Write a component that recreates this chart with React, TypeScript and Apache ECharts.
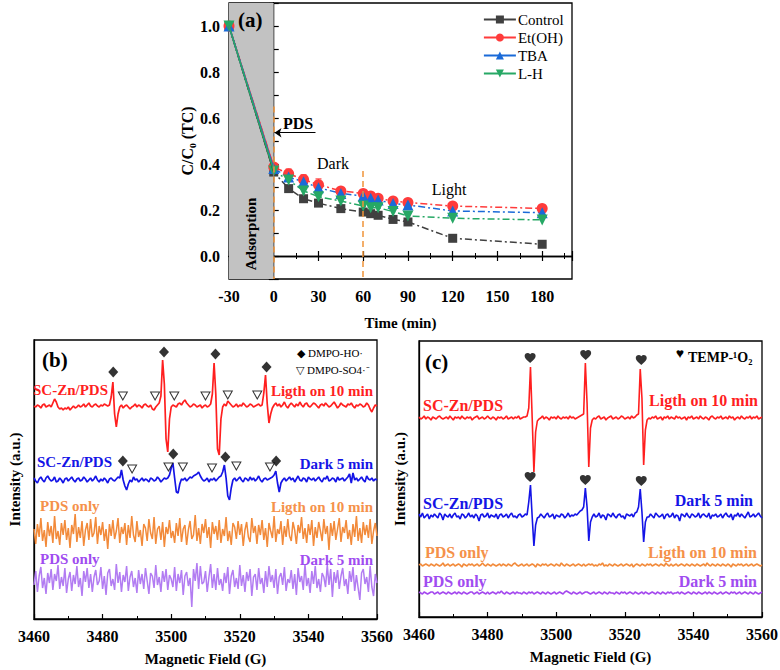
import React, { useEffect, useRef } from "react";
import * as echarts from "echarts";

// ---------------- Panel (a) data ----------------
const A_TIME = [-30, 0, 10, 20, 30, 45, 60, 65, 70, 80, 90, 120, 180];
const A_CONTROL = [1.0, 0.365, 0.293, 0.249, 0.23, 0.206, 0.191, 0.184, 0.177, 0.159, 0.148, 0.077, 0.051];
const A_ETOH = [1.0, 0.387, 0.358, 0.333, 0.31, 0.283, 0.272, 0.261, 0.251, 0.239, 0.233, 0.217, 0.207];
const A_TBA = [1.0, 0.38, 0.343, 0.323, 0.297, 0.272, 0.261, 0.251, 0.243, 0.228, 0.222, 0.196, 0.188];
const A_LH = [1.0, 0.37, 0.33, 0.283, 0.258, 0.239, 0.217, 0.21, 0.21, 0.193, 0.174, 0.164, 0.157];
const A_ETOH_ERR = [0, 0.012, 0.02, 0.02, 0.025, 0.012, 0.01, 0.01, 0.008, 0.006, 0.006, 0.005, 0.005];
const A_TBA_ERR = [0, 0.01, 0.012, 0.012, 0.015, 0.01, 0.01, 0.008, 0.008, 0.006, 0.006, 0.005, 0.005];
const A_NAMES = ["Control", "Et(OH)", "TBA", "L-H"];

// ---------------- EPR spectra (field 3460..3560 G, 0.5 G step), intensity relative to each baseline ----------------
const FIELD_START = 3460;
const FIELD_STEP = 0.5;

const B_RED = [
  0, -1, 1, 0, -2, 1, 2, -1, 0, 1, -1,
  3, 7, 4,
  -1, -3, -2, -4, -2, -3, -1, -4, -2, 0, -2, -1, 1, -1, 0, 2, -1, 1, 3, 0, -1, 1, 2, 0, -1, 1, 0, 2, 1, 0, 1,
  9, 24, -8, -21, -8, -1,
  1, -2, 0, 1, -1, -3, -1, 0, 2, -1, 1, 0, -2, 1, 2, 0, -1, 1,
  -3, -4,
  -1, 1, 3,
  10, 46, 22, -33, -46, -13, -1,
  1, 0, -1, 2, 3, 1, 4, 6, 3, 1, -1, 0, 2, 1, -1, 0, 1, -2, 0, 1, -1, 0, 2,
  12, 43, 12, -43, -49, -13, -1,
  2, 0, 5, 3, 1, -1, 0, 2, -1, 1, 0, 3, 1, -1, 0, 2, 1, -1, 0, 1, 2, 0, 1,
  13, 31, 2, -17, -8, -2,
  1, 3, 0, 2, -1, 1, 4, 0, -2, 1, 3, 1, -1, 2, 0, 4, 1, -1, 2, 3, 0, -1, 1, 3, 2, 0, -2, 1, 2, 0,
  3, 1, -1, 0, 2, 4, 1, -2, 0, 3, 1, 0, -1, 2, 1, 3, 0, -2, 1, 0, 2, 1, -1, 0, 3, 1, -3, -6, -2, 1, 0,
];

const B_BLUE = [
  2, -1, -3, 1, 3, 0, -2, 2, 4, 1, -1, 0, 3, -2, -1, 2, 0, -3, 1, 2, -1, 1, 3, 0, -2, 1, 2, -1, 0, 3,
  1, -2, 0, 2, -1, 1, 4, 0, -2, 1, -1, 2, 0, -3, 1, 2, 0, -1, 1, 3, 2,
  10, 0, -6, -10, -4, 0, -2, 3,
  0, 1, -2, 0, 2, -1, 1, 0, -2, 2, 1, -1, 0, 3, 1, -2, 0, 2, 1, 2,
  5, 12, 17, 2, -12, -13, -4, 1,
  0, 2, -1, 1, 3, 2, 4, 5,
  6, 8,
  4, 1, -1, 0, 2, -2, 1, 0, 2, -1, 1, 3, 4,
  8, 15, 2, -16, -20, -8, 0,
  2, -1, 1, 3, 0, -2, 2, 1, -1, 3, 0, 2, -1, 1, 4, 0, -2, 1, 2, 0, 1, 2, 3,
  5, 9, -3, -12, -3, 0,
  2, -1, 1, 3, 0, 2, -2, 1, 4, 0, -1, 2, 1, -2, 3, 1, 0, 2, -1, 1, 3, 0, -2, 2, 1, 4, -1, 0, 2, 1,
  -2, 3, 0, 1, 2, -1, 1, 3,
  6, -3, 7,
  0, 2, -1, 1, 3, 0, -2, 4, 1, 0, 2, -1, 1, 0,
];

const B_ORANGE = [
  3, -12, 8, -5, 14, -9, 2, -15, 10, -4, 6, -11, 16, -7, 1, -13, 9, -3, 12, -8,
  4, -16, 7, -2, 18, -10, 5, -6, 11, -14, 2, 9, -8, 13, -5, -1, 15, -12, 6, -3,
  10, -9, 3, -17, 8, -4, 12, -7, 1, 14, -11, 5, -2, 9, -13, 7, -6, 16, -3, -10,
  11, -5, 2, -14, 8, 4, -9, 13, -1, -7, 15, -12, 3, 6, -8, 10, -15, 5, -2, 12,
  -6, 1, -11, 9, -4, 14, -10, 3, 7, -13, 2, 11, -7, -3, 17, -9, 4, -12, 8, -1,
  13, -6, 5, -16, 10, -2, 6, -8, 12, -11, 3, -4, 15, -9, 1, -13, 9, 5, -7, 11,
  -3, 8, -14, 2, 10, -5, -10, 14, -1, 6, -12, 7, -3, 12, -8, 4, -15, 9, 1, -6,
  16, -10, 3, -2, 11, -13, 6, -5, 13, -4, -9, 10, 2, -12, 7, -1, 15, -7, 4, -11,
  8, -3, 12, -14, 5, -6, 10, 1, -9, 13, -2, 6, -18, 9, -4, 11, -8, 3, 14, -10,
  5, -1, 12, -7, 2, -13, 8, -5, 16, -9, 4, -11, 10, -3, 7, -6, 13, -12, 1, 9,
  -4,
];

const B_PURPLE = [
  -5, 9, -12, 4, 13, -8, 2, -14, 7, -3, 11, -10, 6, -1, 15, -9, 3, -6, 12, -13,
  1, 8, -11, 5, -4, 14, -7, 2, -16, 9, -2, 12, -8, 6, -12, 3, 10, -5, -1, 13,
  -9, 4, -15, 7, 11, -6, 1, -10, 16, -3, 8, -12, 5, -2, 14, -11, 3, 9, -7, 2,
  -13, 10, -4, 6, -9, 12, -1, -14, 7, 4, -8, 15, -5, 3, -12, 9, -2, 11, -10, 5,
  1, -7, 13, -11, 6, -3, 10, -15, 4, 8, -6, 2, -27, 11, -1, 17, -9, 14, -4, -2,
  9, -12, 3, 16, -8, 6, -10, 12, -5, 1, -11, 7, -3, 13, -14, 4, 10, -7, 2, -9,
  15, -6, 5, -12, 8, -1, 11, -16, 3, 6, -10, 12, -4, 2, -13, 9, -7, 14, -2, 5,
  -8, 11, -14, 3, 7, -5, 13, -11, 1, -3, 10, -9, 6, -15, 12, -2, 4, -10, 16, -6,
  2, -13, 9, -4, 14, -8, 1, -12, 7, 3, -7, 15, -5, 11, -17, 8, -3, 10, -9, 4,
  12, -6, 1, -14, 9, -2, 13, -11, 5, -8, -20, 7, 11, -4, 3, -12, 14, -7, -16, 6,
  -3,
];

const C_RED = [
  1, -1, 0, 2, -1, 1, 0, -2, 1, 0, -1, 1, 2, 0, -1, 0, 1, -1, 2, 0,
  -2, 1, 0, 1, -1, 2, 0, -1, 1, 0, 1, -2, 0, 1, 2, -1, 0, 1, -1, 0,
  2, 0, -1, 1, 0, -2, 1, 0, 1, -1, 0, 2, -1, 0, 1, -1, 1, 0, 2, -1, 0, 1, 1,
  2, 10, 51, 0, -54, -14, -3,
  -1, 0, 2, -1, 1, 0, -2, 1, 0, 1, -1, 2, 0, -1, 1, 0, 1, -1, 2, 0, 1, -1, 0, 1, 2, 3,
  4, 55, 15, -49, -10, -2,
  0, -1, 1, 2, -1, 0, 1, -2, 0, 1, 2, -1, 0, 1, -1, 0, 2, 1, -1, 0, 1, -1, 2, 0, 1, 3,
  4, 49, 20, -47, -12, -2,
  0, -1, 1, 0, 2, -1, 0, 1, -2, 1, 0, 2, -1, 1, 0, -1, 2, 0, 1, -1,
  0, 1, -2, 1, 0, 2, -1, 0, 1, -1, 2, 0, -1, 1, 0, -2, 1, 2, 0, -1,
  1, 0, 2, -1, 0, 1, -1, 2, 0, 1, -2, 0, 1, -1, 2, 0, -1, 1, 0, 2, -1, 1, 0, 2, -1, 0, 1,
];

const C_BLUE = [
  2, -1, 3, -2, 0, 2, -3, 1, -1, 2, 0, -2, 3, 1, -4, 2, 0, -1, 2, -2,
  1, 3, -1, 0, -3, 2, 1, -2, 0, 3, -1, 1, -2, 2, 0, -5, 1, 2, -1, 0,
  3, -2, 1, 0, -1, 2, -3, 1, 2, -1, 0, 2, -2, 1, 3, -1, 0, -2, 1, 2, -1, 0, 2, 1,
  14, 31, -1, -30, -9, -2,
  -1, 2, 0, -2, 1, 3, -1, 0, 2, -3, 1, 0, -1, 2, 1, -2, 0, 3, -1, 1, 0, 2, 1,
  3, 5, 6, 9, 28, 9, -25, -6, -1,
  2, -1, 0, 3, -2, 1, 0, -4, 2, 1, -1, 3, 0, -2, 1, 2, -1, 0, -3, 2, 1, 0, 2, -1, 3, 4,
  9, 27, 4, -26, -6, -1,
  -1, 2, 0, -2, 3, 1, -1, 0, 2, -3, 1, 2, -1, 0, 3, -2, 1, 0, -5, 2,
  1, -1, 3, 0, -2, 2, 1, -1, 0, 3, -2, 1, 2, 0, -1, 3, -3, 1, 0, 2,
  -1, 0, 2, -2, 1, 3, 0, -1, 2, -4, 1, 0, 3, -1, 2, 0, -2, 1, 4, -1, 0, 2, -1, 1, 3, 0, -2,
];

const C_ORANGE = [
  0, 1, -1, 0, 1, 0, -1, 1, 0, -1, 1, 0, -1, 0, 2, -1, 0, 1, -1, 0,
  1, -1, 0, 1, 0, -2, 1, 0, -1, 1, 0, 1, -1, 0, 1, -1, 0, 2, 0, -1,
  1, 0, -1, 1, 0, -1, 0, 1, -1, 1, 0, -1, 1, 0, -1, 1, 2, 0, -1, 0,
  1, -1, 0, 1, -1, 0, 1, 0, -2, 1, 0, -1, 1, 0, 1, -1, 0, 1, 0, -1,
  1, 0, -1, 2, 0, -1, 1, 0, -1, 0, 1, -1, 0, 1, 0, -1, 1, -1, 0, 1,
  0, 1, -1, 0, -1, 1, 0, 2, -1, 0, -1, 1, 0, -1, 1, 0, -1, 0, 1, -1,
  0, 1, 0, -1, 1, -2, 0, 1, 0, -1, 1, 0, -1, 1, 0, 1, -1, 0, 1, 0,
  -1, 1, 0, -1, 2, 0, -1, 1, -1, 0, 1, -1, 0, 1, 0, -1, 1, 0, -1, 1,
  0, -1, 1, 0, -1, 0, 1, -1, 2, 0, -1, 1, 0, -1, 1, 0, -1, 1, 0, -1,
  1, 0, -2, 1, 0, -1, 1, 0, 1, -1, 0, 1, -1, 0, 1, -1, 0, 1, 0, -1,
  0,
];

const C_PURPLE = [
  1, 0, -1, 1, 0, -1, 0, 1, 1, -1, 0, 1, -1, 0, 1, 0, -1, 1, 0, -1,
  0, 1, -1, 1, 0, -1, 1, 0, -1, 0, 1, 1, -1, 0, 1, -1, 0, 1, 0, -1,
  1, -1, 0, 1, 0, -1, 1, 0, 2, 0, -1, 1, 0, -1, 0, 1, -1, 1, 0, 0,
  -1, 1, 0, -1, 1, 0, 1, -1, 0, 1, 0, -1, 1, 0, -1, 1, 0, -1, 0, 1,
  -1, 0, 1, 0, -1, 1, 2, 1, 0, -1, 1, 0, -1, 0, 1, -1, 0, 1, 1, 0,
  -1, 0, 1, -1, 0, 1, 0, -1, 1, 0, -1, 1, 0, 0, -1, 1, 0, -1, 1, 0,
  1, -1, 0, 1, 0, -1, 1, 0, -1, 0, 1, -1, 1, 0, -1, 0, 1, 0, -1, 1,
  0, -1, 1, 0, -1, 1, 0, 1, -1, 0, 0, 1, -1, 1, 0, -1, 0, 1, 0, -1,
  1, 0, -1, 1, 0, -1, 0, 1, -1, 1, 0, -1, 1, 0, -1, 0, 1, -1, 0, 1,
  0, -1, 1, 0, 1, -1, 0, 1, -1, 0, 1, 0, -1, 1, 0, -1, 1, 0, -1, 0,
  1,
];

// marker annotations: [field (G), level (a.u.)]
const B_DIAMONDS = [[3483.1, 247], [3497.9, 267], [3512.9, 265], [3527.8, 252], [3485.9, 158], [3500.6, 165], [3515.8, 162], [3530.6, 158]];
const B_TRIANGLES = [[3485.9, 223], [3495.3, 223], [3500.9, 223], [3510.0, 223], [3516.5, 224], [3525.1, 224], [3488.6, 150], [3499.2, 152], [3503.4, 152], [3511.9, 151], [3519.0, 153], [3528.8, 152]];
const C_HEARTS = [[3492.4, 259], [3508.6, 262], [3524.8, 257], [3492.4, 140], [3508.5, 137], [3524.8, 136]];

const X_TICKS_EPR = [3460, 3480, 3500, 3520, 3540, 3560];

// ---------------- styling ----------------
const FONT = '"Liberation Serif", "Times New Roman", serif';
const RED = "#ff1f1f";
const BLUE = "#1414e6";
const ORANGE = "#f28a3a";
const PURPLE_B = "#b27cf2";
const PURPLE_C = "#a448ee";
const TXT_ORANGE = "#f5914a";
const TXT_PURPLE = "#a04cf0";
const A_COLORS = ["#404040", "#ff3b3b", "#1a6ad8", "#26a865"];
const A_SYMBOLS = ["rect", "circle", "triangle", "triangle"];
const A_ROT = [0, 0, 0, 180];
const A_SIZES = [9, 11, 11, 11];
const B_LEVELS = [213, 139, 87, 39];
const C_LEVELS = [199, 101, 52, 24];
const HEART = "path://M12 21.35l-1.45-1.32C5.4 15.36 2 12.28 2 8.5 2 5.42 4.42 3 7.5 3c1.74 0 3.41.81 4.5 2.09C13.09 3.81 14.76 3 16.5 3 19.58 3 22 5.42 22 8.5c0 3.78-3.4 6.86-8.55 11.54L12 21.35z";

function trace(devs: number[], level: number) {
  return devs.map((d, i) => [FIELD_START + i * FIELD_STEP, level + d]);
}

function txt(x: number, y: number, text: string, size: number, color: string, bold: boolean, align = "left", rotation = 0) {
  return {
    type: "text",
    x,
    y,
    rotation,
    z: 100,
    style: {
      text,
      fill: color,
      font: `${bold ? "bold " : ""}${size}px ${FONT}`,
      textAlign: align,
      align,
      textVerticalAlign: "middle",
      verticalAlign: "middle",
    },
  };
}

function errorBars(vals: number[], errs: number[], color: string) {
  return {
    type: "custom",
    xAxisIndex: 0,
    yAxisIndex: 0,
    silent: true,
    z: 2,
    data: A_TIME.map((t, i) => [t, vals[i], errs[i]]),
    renderItem: (_params: any, api: any) => {
      const x = api.value(0);
      const y = api.value(1);
      const e = api.value(2);
      if (!e) return null;
      const top = api.coord([x, y + e]);
      const bot = api.coord([x, y - e]);
      const style = { stroke: color, lineWidth: 1.2 };
      return {
        type: "group",
        children: [
          { type: "line", shape: { x1: top[0], y1: top[1], x2: bot[0], y2: bot[1] }, style },
          { type: "line", shape: { x1: top[0] - 3, y1: top[1], x2: top[0] + 3, y2: top[1] }, style },
          { type: "line", shape: { x1: bot[0] - 3, y1: bot[1], x2: bot[0] + 3, y2: bot[1] }, style },
        ],
      };
    },
  };
}

const axisLineStyle = { lineStyle: { color: "#000", width: 1.3 } };
const tickLabelStyle = { fontFamily: FONT, fontWeight: "bold", fontSize: 16, color: "#000" };
const nameStyle = { fontFamily: FONT, fontWeight: "bold", fontSize: 15, color: "#000" };

export default function App() {
  const ref = useRef<HTMLDivElement>(null);
  useEffect(() => {
    if (!ref.current) return;
    const chart = echarts.init(ref.current, undefined, { renderer: "svg" });
    const aSeries = [A_CONTROL, A_ETOH, A_TBA, A_LH];

    const series: any[] = [];
    series.push({
      type: "line",
      xAxisIndex: 0,
      yAxisIndex: 0,
      data: [],
      z: 1,
      silent: true,
      markArea: {
        silent: true,
        itemStyle: { color: "#c2c2c2" },
        data: [[{ xAxis: -30 }, { xAxis: 0 }]],
      },
      markLine: {
        silent: true,
        symbol: "none",
        label: { show: false },
        lineStyle: { color: "#f0943a", type: [6, 4], width: 1.5 },
        data: [
          [{ coord: [0, 1.1], lineStyle: { color: "#7a7a7a", type: "solid", width: 1 } }, { coord: [0, -0.1] }],
          [{ coord: [0, 0.65] }, { coord: [0, -0.1] }],
          [{ coord: [60, 0.37] }, { coord: [60, -0.1] }],
        ],
      },
    });
    series.push({
      type: "line",
      xAxisIndex: 0,
      yAxisIndex: 0,
      data: [],
      z: 5,
      silent: true,
      markLine: {
        silent: true,
        symbol: ["none", "arrow"],
        symbolSize: 7,
        label: { show: false },
        lineStyle: { color: "#000", type: "solid", width: 1.2 },
        data: [[{ coord: [28, 0.536] }, { coord: [0.5, 0.536] }]],
      },
    });
    series.push(errorBars(A_ETOH, A_ETOH_ERR, A_COLORS[1]));
    series.push(errorBars(A_TBA, A_TBA_ERR, A_COLORS[2]));
    aSeries.forEach((arr, k) => {
      series.push({
        name: A_NAMES[k],
        type: "line",
        xAxisIndex: 0,
        yAxisIndex: 0,
        data: A_TIME.map((t, i) => [t, arr[i]]),
        symbol: A_SYMBOLS[k],
        symbolRotate: A_ROT[k],
        symbolSize: A_SIZES[k],
        showAllSymbol: true,
        z: 3,
        itemStyle: { color: A_COLORS[k] },
        lineStyle: { color: A_COLORS[k], width: 1.5, type: [7, 3, 2, 3] },
      });
    });
    aSeries.forEach((arr, k) => {
      series.push({
        name: A_NAMES[k] + " adsorption",
        type: "line",
        xAxisIndex: 0,
        yAxisIndex: 0,
        data: [[A_TIME[0], arr[0]], [A_TIME[1], arr[1]]],
        symbol: "none",
        z: 4,
        lineStyle: { color: A_COLORS[k], width: 1.5, type: "solid" },
      });
    });

    // panel b
    const bTraces = [B_RED, B_BLUE, B_ORANGE, B_PURPLE];
    const bColors = [RED, BLUE, ORANGE, PURPLE_B];
    bTraces.forEach((d, k) => {
      series.push({
        type: "line",
        xAxisIndex: 2,
        yAxisIndex: 2,
        data: trace(d, B_LEVELS[k]),
        symbol: "none",
        silent: true,
        lineStyle: { color: bColors[k], width: k < 2 ? 1.7 : 1.5 },
        z: 3,
      });
    });
    series.push({
      type: "scatter",
      xAxisIndex: 2,
      yAxisIndex: 2,
      data: B_DIAMONDS,
      symbol: "diamond",
      symbolSize: [10, 11],
      itemStyle: { color: "#000" },
      z: 6,
    });
    series.push({
      type: "scatter",
      xAxisIndex: 2,
      yAxisIndex: 2,
      data: B_TRIANGLES,
      symbol: "triangle",
      symbolRotate: 180,
      symbolSize: [9, 8],
      itemStyle: { color: "#fff", borderColor: "#000", borderWidth: 1 },
      z: 6,
    });

    // panel c
    const cTraces = [C_RED, C_BLUE, C_ORANGE, C_PURPLE];
    const cColors = [RED, BLUE, ORANGE, PURPLE_C];
    cTraces.forEach((d, k) => {
      series.push({
        type: "line",
        xAxisIndex: 3,
        yAxisIndex: 3,
        data: trace(d, C_LEVELS[k]),
        symbol: "none",
        silent: true,
        lineStyle: { color: cColors[k], width: 1.6 },
        z: 3,
      });
    });
    series.push({
      type: "scatter",
      xAxisIndex: 3,
      yAxisIndex: 3,
      data: C_HEARTS,
      symbol: HEART,
      symbolSize: [11, 10],
      itemStyle: { color: "#000" },
      z: 6,
    });

    const eprX = (grid: number) => ({
      type: "value",
      gridIndex: grid,
      min: 3460,
      max: 3560,
      interval: 20,
      name: "Magnetic Field (G)",
      nameLocation: "middle",
      nameGap: 32,
      nameTextStyle: nameStyle,
      axisLine: axisLineStyle,
      axisTick: { inside: true, length: 5, lineStyle: { color: "#000", width: 1.2 } },
      minorTick: { show: true, splitNumber: 2, length: 3, lineStyle: { color: "#000", width: 1 } },
      axisLabel: { ...tickLabelStyle, margin: 9, showMinLabel: true, showMaxLabel: true, formatter: (v: number) => (X_TICKS_EPR.includes(v) ? String(v) : "") },
      splitLine: { show: false },
    });
    const eprY = (grid: number, max: number) => ({
      type: "value",
      gridIndex: grid,
      min: 0,
      max,
      name: "Intensity (a.u.)",
      nameLocation: "middle",
      nameGap: 12,
      nameTextStyle: nameStyle,
      axisLine: { show: true, ...axisLineStyle },
      axisTick: { show: false },
      axisLabel: { show: false },
      splitLine: { show: false },
    });

    const option: any = {
      animation: false,
      backgroundColor: "#fff",
      textStyle: { fontFamily: FONT },
      grid: [
        { left: 229, top: 3, width: 343, height: 276, outerBoundsMode: "none", show: true, borderColor: "#000", borderWidth: 1.3 },
        { left: 34, top: 340, width: 343, height: 279, outerBoundsMode: "none", show: true, borderColor: "#000", borderWidth: 1.3 },
        { left: 419, top: 341, width: 343, height: 276, outerBoundsMode: "none", show: true, borderColor: "#000", borderWidth: 1.3 },
      ],
      legend: {
        data: A_NAMES,
        orient: "vertical",
        left: 478,
        top: 7,
        itemWidth: 32,
        itemHeight: 10,
        itemGap: 3,
        textStyle: { fontFamily: FONT, fontSize: 15, color: "#000", padding: [0, 0, 0, -3] },
        lineStyle: { type: "solid", width: 1.8 },
        selectedMode: false,
      },
      xAxis: [
        {
          type: "value",
          gridIndex: 0,
          min: -30,
          max: 200,
          interval: 30,
          name: "Time (min)",
          nameLocation: "middle",
          nameGap: 36,
          nameTextStyle: nameStyle,
          axisLine: axisLineStyle,
          axisTick: { inside: true, length: 5, lineStyle: { color: "#000", width: 1.2 } },
          minorTick: { show: true, splitNumber: 2, length: 3, lineStyle: { color: "#000", width: 1 } },
          axisLabel: { ...tickLabelStyle, margin: 9, formatter: (v: number) => (v > 180 ? "" : String(v)) },
          splitLine: { show: false },
        },
        {
          type: "value",
          gridIndex: 0,
          position: "top",
          min: -30,
          max: 200,
          interval: 30,
          axisLine: axisLineStyle,
          axisTick: { inside: true, length: 5, lineStyle: { color: "#000", width: 1.2 } },
          minorTick: { show: true, splitNumber: 2, length: 3, lineStyle: { color: "#000", width: 1 } },
          axisLabel: { show: false },
          splitLine: { show: false },
        },
        eprX(1),
        eprX(2),
      ],
      yAxis: [
        {
          type: "value",
          gridIndex: 0,
          min: -0.1,
          max: 1.1,
          interval: 0.1,
          name: "C/C₀ (TC)",
          nameLocation: "middle",
          nameGap: 34,
          nameTextStyle: { ...nameStyle, fontSize: 16 },
          axisLine: axisLineStyle,
          axisTick: { inside: true, length: 5, lineStyle: { color: "#000", width: 1.2 } },
          axisLabel: {
            ...tickLabelStyle,
            margin: 9,
            formatter: (v: number) => {
              const r = Math.round(v * 10);
              return r >= 0 && r % 2 === 0 ? (r / 10).toFixed(1) : "";
            },
          },
          splitLine: { show: false },
        },
        {
          type: "value",
          gridIndex: 0,
          position: "right",
          min: -0.1,
          max: 1.1,
          interval: 0.1,
          axisLine: axisLineStyle,
          axisTick: { inside: true, length: 5, lineStyle: { color: "#000", width: 1.2 } },
          axisLabel: { show: false },
          splitLine: { show: false },
        },
        eprY(1, 279),
        eprY(2, 276),
      ],
      series,
      graphic: [
        txt(238, 20, "(a)", 21, "#000", true),
        txt(283, 123, "PDS", 16, "#000", true),
        txt(333, 163, "Dark", 16, "#000", false, "center"),
        txt(449, 189, "Light", 16, "#000", false, "center"),
        txt(251, 234, "Adsorption", 15, "#000", true, "center", Math.PI / 2),
        txt(42, 360, "(b)", 21, "#000", true),
        txt(33, 390, "SC-Zn/PDS", 15, RED, true),
        txt(373, 391, "Ligth on 10 min", 15, RED, true, "right"),
        txt(37, 462, "SC-Zn/PDS", 15, BLUE, true),
        txt(373, 464, "Dark 5 min", 15, BLUE, true, "right"),
        txt(40, 506, "PDS only", 15, TXT_ORANGE, true),
        txt(373, 507, "Ligth on 10 min", 15, TXT_ORANGE, true, "right"),
        txt(40, 559, "PDS only", 15, TXT_PURPLE, true),
        txt(373, 560, "Dark 5 min", 15, TXT_PURPLE, true, "right"),
        txt(301, 353, "◆", 11, "#000", false, "center"),
        txt(308, 353, "DMPO-HO·", 11, "#000", false),
        txt(300, 370, "▽", 11, "#000", false, "center"),
        txt(307, 370, "DMPO-SO4·⁻", 11, "#000", false),
        txt(425, 362, "(c)", 21, "#000", true),
        txt(423, 405, "SC-Zn/PDS", 16, RED, true),
        txt(758, 400, "Ligth on 10 min", 16, RED, true, "right"),
        txt(423, 503, "SC-Zn/PDS", 16, BLUE, true),
        txt(753, 500, "Dark 5 min", 16, BLUE, true, "right"),
        txt(425, 552, "PDS only", 16, TXT_ORANGE, true),
        txt(757, 552, "Ligth on 10 min", 16, TXT_ORANGE, true, "right"),
        txt(423, 581, "PDS only", 16, TXT_PURPLE, true),
        txt(757, 581, "Dark 5 min", 16, TXT_PURPLE, true, "right"),
        txt(680, 353, "♥", 14, "#000", false, "center"),
        txt(688, 357, "TEMP-¹O₂", 14, "#000", true),
      ],
    };
    chart.setOption(option);
    return () => chart.dispose();
  }, []);
  return (
    <div
      ref={ref}
      style={{ position: "absolute", left: 0, top: 0, width: 780, height: 670, background: "#fff" }}
    />
  );
}
